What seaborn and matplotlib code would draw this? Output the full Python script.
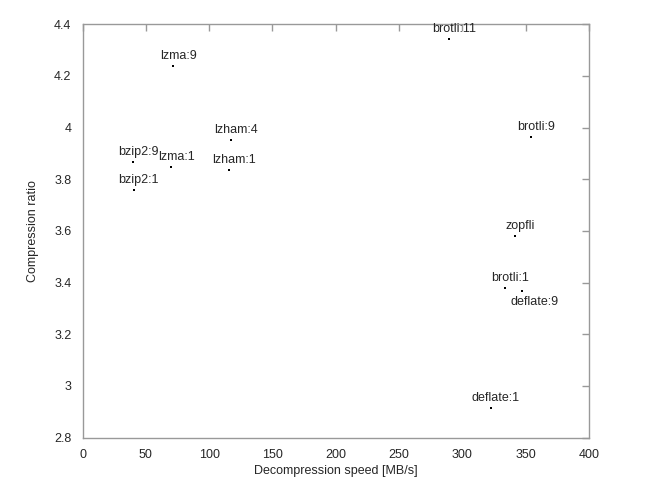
import matplotlib
matplotlib.use('Agg')
import matplotlib.pyplot as plt
import seaborn as sns
import pandas as pd

# values
codecs = ["lzma:9", "lzham:4", "lzham:1", "bzip2:9", "lzma:1", "bzip2:1",
          "brotli:11", "brotli:9", "zopfli", "brotli:1", "deflate:9", "deflate:1"]
speed = [71.7, 117.3, 115.7, 40.1, 70.1, 40.4, 289.5, 354.0, 341.6, 333.7, 347.2, 322.6]
ratio = [4.239, 3.951, 3.836, 3.868, 3.848, 3.758, 4.343, 3.963, 3.580, 3.379, 3.369, 2.913]
below = ["deflate:9"]

df = pd.DataFrame({"codec": codecs, "speed": speed, "ratio": ratio})

sns.set_style("white")
plt.rcParams['font.family'] = ['Liberation Sans', 'DejaVu Sans']

fig = plt.figure(figsize=(6.6, 4.92), dpi=100)
ax = fig.add_axes([0.125, 0.1106, 0.7674, 0.84])

sns.scatterplot(data=df, x="speed", y="ratio", color="black", s=3, marker="s",
                linewidth=0, ax=ax, legend=False)

for name, x, y in zip(codecs, speed, ratio):
    off = (9, -8) if name in below else (3.6, 7.2)
    ax.annotate(name, (x, y), xytext=off, textcoords="offset points",
                ha="center", va="center", fontsize=9)

ax.set_xlim(0, 400)
ax.set_ylim(2.8, 4.4)
ax.set_xticks(range(0, 401, 50))
ax.set_yticks([2.8, 3.0, 3.2, 3.4, 3.6, 3.8, 4.0, 4.2, 4.4])
ax.set_yticklabels(["2.8", "3", "3.2", "3.4", "3.6", "3.8", "4", "4.2", "4.4"])
ax.tick_params(direction="in", length=5, color="#999999", width=1,
               top=True, right=True, labelsize=9, pad=8)
for sp in ax.spines.values():
    sp.set_color("#999999")
    sp.set_linewidth(1)

ax.set_xlabel("Decompression speed [MB/s]", fontsize=9, labelpad=3)
ax.set_ylabel("Compression ratio", fontsize=9, labelpad=11)

fig.savefig("out.png", dpi=100)
